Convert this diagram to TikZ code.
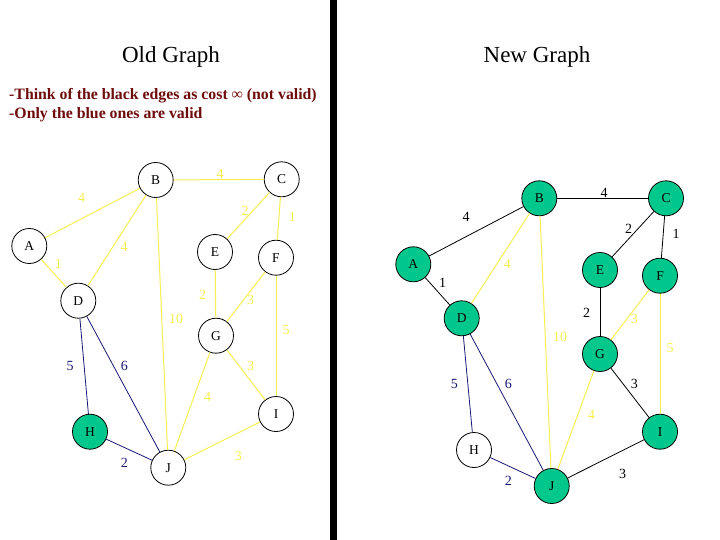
\documentclass[tikz,border=0pt]{standalone}
\usepackage{fontspec}
\setmainfont{Liberation Serif}
\definecolor{ylw}{RGB}{245,240,80}
\definecolor{navy}{RGB}{25,25,115}
\definecolor{nodegreen}{RGB}{0,200,140}
\definecolor{darkred}{RGB}{110,12,12}
\newcommand\conn[6]{\draw[#1e] (#2) -- (#3); \node[lab,#1l] (#2#3) at (#4,#5) {#6};}
\begin{document}
\begin{tikzpicture}[x=1pt,y=-1pt,
  vert/.style={circle,draw=black,line width=0.8pt,minimum size=35pt,inner sep=0pt,font=\fontsize{13.5}{14}\selectfont},
  gvert/.style={vert,fill=nodegreen},
  lab/.style={inner sep=0pt,font=\fontsize{14}{15}\selectfont},
  ye/.style={draw=ylw,line width=1pt},
  yl/.style={text=ylw},
  be/.style={draw=navy,line width=0.8pt},
  bl/.style={text=navy},
  ke/.style={draw=black,line width=0.8pt},
  kl/.style={text=black},
  title/.style={anchor=base,font=\fontsize{23}{25}\selectfont},
  note/.style={anchor=base west,inner sep=0pt,text=darkred,font=\bfseries\fontsize{15.8}{17}\selectfont}]
\useasboundingbox (0,0) rectangle (720,540);
\fill[white] (0,0) rectangle (720,540);
\fill[black] (330,0) rectangle (337,540);

\node[title] (t1) at (171,63) {Old Graph};
\node[title] (t2) at (537,63) {New Graph};
\node[note] (n1) at (9,100) {-Think of the black edges as cost ∞ (not valid)};
\node[note] (n2) at (9,119) {-Only the blue ones are valid};

% Old graph
\node[vert] (oA) at (29.3,246) {A};
\node[vert] (oB) at (155.7,180) {B};
\node[vert] (oC) at (281.7,179.3) {C};
\node[vert] (oD) at (78.3,300.7) {D};
\node[vert] (oE) at (215,252) {E};
\node[vert] (oF) at (276,257.7) {F};
\node[vert] (oG) at (216,335.7) {G};
\node[gvert] (oH) at (90,431.7) {H};
\node[vert] (oI) at (276,414) {I};
\node[vert] (oJ) at (168.3,467.7) {J};

\conn{y}{oA}{oB}{81.7}{198.3}{4}
\conn{y}{oB}{oC}{220}{174}{4}
\conn{y}{oC}{oE}{245}{211}{2}
\conn{y}{oC}{oF}{292.3}{216.7}{1}
\conn{y}{oA}{oD}{58.3}{264}{1}
\conn{y}{oB}{oD}{124}{246.7}{4}
\conn{y}{oE}{oG}{202.7}{295}{2}
\conn{y}{oF}{oG}{250.7}{300}{3}
\conn{y}{oB}{oJ}{176}{319}{10}
\conn{y}{oF}{oI}{286}{330}{5}
\conn{y}{oG}{oI}{250.7}{366}{3}
\conn{y}{oG}{oJ}{207.7}{396.7}{4}
\conn{y}{oI}{oJ}{238.3}{456}{3}
\conn{b}{oD}{oH}{70}{366}{5}
\conn{b}{oD}{oJ}{124.3}{366}{6}
\conn{b}{oH}{oJ}{124.3}{462.7}{2}

% New graph
\node[gvert] (nA) at (413.3,264.3) {A};
\node[gvert] (nB) at (539.3,198.3) {B};
\node[gvert] (nC) at (666,198.3) {C};
\node[gvert] (nD) at (461.7,318.3) {D};
\node[gvert] (nE) at (600,270) {E};
\node[gvert] (nF) at (660,275.7) {F};
\node[gvert] (nG) at (600,354) {G};
\node[vert] (nH) at (474,450) {H};
\node[gvert] (nI) at (660,431.7) {I};
\node[gvert] (nJ) at (551.7,486) {J};

\conn{k}{nA}{nB}{466}{216.7}{4}
\conn{k}{nB}{nC}{604}{192.7}{4}
\conn{k}{nC}{nE}{628.7}{229}{2}
\conn{k}{nC}{nF}{676}{234.3}{1}
\conn{k}{nA}{nD}{442.7}{282.7}{1}
\conn{y}{nB}{nD}{507.3}{264.3}{4}
\conn{k}{nE}{nG}{586.7}{312.7}{2}
\conn{y}{nF}{nG}{634.3}{319.3}{3}
\conn{y}{nB}{nJ}{560}{336.7}{10}
\conn{y}{nF}{nI}{670}{348.3}{5}
\conn{k}{nG}{nI}{634.3}{384}{3}
\conn{y}{nG}{nJ}{591.7}{415}{4}
\conn{k}{nI}{nJ}{622.7}{474}{3}
\conn{b}{nD}{nH}{454.3}{384}{5}
\conn{b}{nD}{nJ}{508.3}{384}{6}
\conn{b}{nH}{nJ}{508.3}{480.7}{2}
\end{tikzpicture}
\end{document}
